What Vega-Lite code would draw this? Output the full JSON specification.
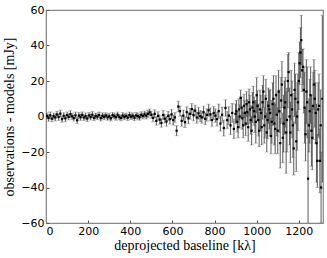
{
  "$schema": "https://vega.github.io/schema/vega-lite/v6.json",
  "width": 277,
  "height": 213,
  "autosize": {"type": "none"},
  "padding": {"left": 46, "top": 10, "right": 4, "bottom": 35},
  "config": {
    "view": {"stroke": "#888", "strokeWidth": 1.2},
    "axis": {
      "grid": false,
      "domainColor": "#888",
      "tickColor": "#555",
      "tickSize": -3,
      "labelFont": "DejaVu Sans",
      "labelFontSize": 11,
      "labelColor": "#000",
      "titleFont": "Liberation Serif",
      "titleFontSize": 14,
      "titleFontWeight": "normal",
      "titleColor": "#000"
    }
  },
  "data": {"values": [
    {"x":4,"y":0.3,"e":1.8},{"x":12,"y":-0.8,"e":1.9},{"x":20,"y":0.6,"e":2.0},{"x":28,"y":-1.2,"e":1.8},
    {"x":36,"y":0.2,"e":1.7},{"x":44,"y":-0.5,"e":2.0},{"x":52,"y":1.1,"e":1.8},{"x":60,"y":-0.3,"e":1.9},
    {"x":68,"y":1.6,"e":2.0},{"x":76,"y":-1.5,"e":1.8},{"x":84,"y":0.4,"e":1.7},{"x":92,"y":-1.0,"e":1.9},
    {"x":100,"y":0.8,"e":1.8},{"x":108,"y":-0.2,"e":1.7},{"x":116,"y":1.3,"e":1.9},{"x":124,"y":0.1,"e":1.8},
    {"x":132,"y":-0.9,"e":1.7},{"x":140,"y":0.7,"e":1.8},{"x":148,"y":-2.1,"e":1.9},{"x":156,"y":0.5,"e":1.7},
    {"x":164,"y":-0.4,"e":1.8},{"x":172,"y":0.9,"e":1.7},{"x":180,"y":-0.6,"e":1.6},{"x":188,"y":0.2,"e":1.8},
    {"x":196,"y":-1.1,"e":1.7},{"x":204,"y":0.6,"e":1.6},{"x":212,"y":-0.3,"e":1.7},{"x":220,"y":1.0,"e":1.8},
    {"x":228,"y":-0.7,"e":1.6},{"x":236,"y":0.3,"e":1.7},{"x":244,"y":-0.1,"e":1.6},{"x":252,"y":0.8,"e":1.7},
    {"x":260,"y":-0.9,"e":1.6},{"x":268,"y":0.4,"e":1.7},{"x":276,"y":-0.2,"e":1.6},{"x":284,"y":0.6,"e":1.5},
    {"x":292,"y":-0.5,"e":1.6},{"x":300,"y":0.1,"e":1.7},{"x":308,"y":-1.0,"e":1.6},{"x":316,"y":0.7,"e":1.5},
    {"x":324,"y":0.2,"e":1.6},{"x":332,"y":-0.4,"e":1.7},{"x":340,"y":0.9,"e":1.6},{"x":348,"y":-0.3,"e":1.5},
    {"x":356,"y":-0.8,"e":1.6},{"x":364,"y":0.5,"e":1.7},{"x":372,"y":-0.2,"e":1.6},{"x":380,"y":0.3,"e":1.5},
    {"x":388,"y":-0.6,"e":1.6},{"x":396,"y":0.8,"e":1.7},{"x":404,"y":-0.1,"e":1.6},{"x":412,"y":0.4,"e":1.7},
    {"x":420,"y":-0.7,"e":1.6},{"x":428,"y":0.6,"e":1.7},{"x":436,"y":0.2,"e":1.8},{"x":444,"y":-0.4,"e":1.7},
    {"x":452,"y":0.9,"e":1.8},{"x":460,"y":0.3,"e":1.7},{"x":468,"y":1.2,"e":1.8},{"x":476,"y":0.5,"e":1.9},
    {"x":484,"y":1.5,"e":2.0},{"x":492,"y":2.3,"e":1.9},{"x":500,"y":1.0,"e":2.0},{"x":508,"y":-0.8,"e":2.2},
    {"x":516,"y":1.5,"e":2.3},{"x":524,"y":-2.5,"e":2.4},{"x":532,"y":0.4,"e":2.3},{"x":540,"y":-1.8,"e":2.5},
    {"x":548,"y":-3.6,"e":2.4},{"x":556,"y":0.8,"e":2.6},{"x":564,"y":-1.2,"e":2.5},{"x":572,"y":-2.8,"e":2.7},
    {"x":580,"y":0.3,"e":2.6},{"x":588,"y":-1.5,"e":2.7},{"x":596,"y":1.2,"e":2.8},{"x":604,"y":-2.0,"e":2.9},
    {"x":612,"y":-0.5,"e":2.8},{"x":620,"y":-8.0,"e":2.8},{"x":628,"y":5.6,"e":3.0},{"x":636,"y":3.0,"e":2.9},
    {"x":644,"y":-2.5,"e":3.0},{"x":652,"y":0.5,"e":3.1},{"x":660,"y":-3.2,"e":3.0},{"x":668,"y":2.5,"e":3.0},
    {"x":676,"y":-1.0,"e":3.1},{"x":684,"y":1.5,"e":3.0},{"x":692,"y":4.2,"e":3.1},{"x":700,"y":0.8,"e":3.2},
    {"x":708,"y":3.3,"e":3.1},{"x":716,"y":-0.6,"e":3.2},{"x":724,"y":1.8,"e":3.3},{"x":732,"y":0.2,"e":3.2},
    {"x":740,"y":-0.5,"e":3.3},{"x":748,"y":2.4,"e":3.4},{"x":756,"y":-1.3,"e":3.3},{"x":764,"y":0.9,"e":3.5},
    {"x":772,"y":3.5,"e":3.4},{"x":780,"y":1.2,"e":3.6},{"x":788,"y":-2.0,"e":3.5},{"x":796,"y":2.0,"e":3.7},
    {"x":804,"y":0.5,"e":3.8},{"x":812,"y":-1.5,"e":3.9},{"x":820,"y":3.0,"e":4.0},{"x":828,"y":-4.0,"e":4.2},
    {"x":836,"y":1.0,"e":4.3},{"x":844,"y":-6.5,"e":4.5},{"x":852,"y":4.8,"e":4.6},{"x":860,"y":-2.0,"e":4.8},
    {"x":868,"y":0.5,"e":5.0},{"x":876,"y":-5.0,"e":5.2},{"x":884,"y":2.0,"e":5.3},{"x":892,"y":-7.0,"e":5.5},
    {"x":900,"y":1.5,"e":5.5},{"x":908,"y":-3.0,"e":5.8},{"x":916,"y":4.0,"e":6.0},{"x":924,"y":10.5,"e":4.5},
    {"x":932,"y":-1.0,"e":6.2},{"x":940,"y":6.0,"e":6.5},{"x":948,"y":-4.0,"e":6.8},{"x":956,"y":2.5,"e":7.0},
    {"x":964,"y":8.0,"e":7.5},{"x":972,"y":-2.0,"e":8.0},{"x":980,"y":5.0,"e":8.5},{"x":988,"y":3.0,"e":8.0},
    {"x":996,"y":-3.0,"e":12},{"x":1004,"y":6.0,"e":8.5},{"x":1012,"y":-8.0,"e":9.0},{"x":1020,"y":2.0,"e":10},
    {"x":1028,"y":8.0,"e":9.5},{"x":1036,"y":-5.0,"e":10},{"x":1044,"y":10.0,"e":11},{"x":1052,"y":-2.0,"e":10.5},
    {"x":1060,"y":4.0,"e":11},{"x":1068,"y":-11.0,"e":10},{"x":1076,"y":7.0,"e":12},{"x":1084,"y":-4.0,"e":12},
    {"x":1092,"y":12.0,"e":11},{"x":1100,"y":-8.0,"e":13},{"x":1108,"y":3.0,"e":12},{"x":1116,"y":9.0,"e":13},
    {"x":1124,"y":-12.0,"e":14},{"x":1132,"y":5.0,"e":15},{"x":1140,"y":-9.0,"e":23},{"x":1148,"y":20.0,"e":15},
    {"x":1156,"y":0.0,"e":16},{"x":1164,"y":12.0,"e":14},{"x":1172,"y":-5.0,"e":18},{"x":1180,"y":15.0,"e":15},
    {"x":1188,"y":-14.0,"e":17},{"x":1196,"y":8.0,"e":16},{"x":1204,"y":30.0,"e":12},{"x":1212,"y":43.0,"e":14},
    {"x":1220,"y":28.0,"e":10},{"x":1228,"y":5.0,"e":20},{"x":1236,"y":14.0,"e":18},{"x":1244,"y":-35.0,"e":27},
    {"x":1252,"y":3.0,"e":18},{"x":1260,"y":-8.0,"e":20},{"x":1268,"y":6.0,"e":19},{"x":1276,"y":10.0,"e":16},
    {"x":1284,"y":-15.0,"e":22},{"x":1292,"y":4.0,"e":15},{"x":1300,"y":-25.0,"e":18},{"x":1306,"y":-40.0,"e":20},
    {"x":1312,"y":10.0,"e":47},
    {"x":904,"y":3.0,"e":6},{"x":912,"y":-6.0,"e":6},{"x":920,"y":0.0,"e":6.5},{"x":928,"y":5.0,"e":6},
    {"x":936,"y":-5.0,"e":7},{"x":944,"y":2.0,"e":7},{"x":952,"y":7.0,"e":7},{"x":960,"y":-6.0,"e":8},
    {"x":968,"y":4.0,"e":8},{"x":976,"y":-8.0,"e":8},{"x":984,"y":8.0,"e":9},{"x":992,"y":0.0,"e":9},
    {"x":1000,"y":12.0,"e":10},{"x":1008,"y":-2.0,"e":9},{"x":1016,"y":4.0,"e":11},{"x":1024,"y":-6.0,"e":10},
    {"x":1032,"y":14.0,"e":9},{"x":1040,"y":0.0,"e":12},{"x":1048,"y":-9.0,"e":11},{"x":1056,"y":6.0,"e":10},
    {"x":1064,"y":2.0,"e":13},{"x":1072,"y":-3.0,"e":12},{"x":1080,"y":10.0,"e":13},{"x":1088,"y":-7.0,"e":14},
    {"x":1096,"y":1.0,"e":12},{"x":1104,"y":14.0,"e":12},{"x":1112,"y":-15.0,"e":14},{"x":1120,"y":18.0,"e":13},
    {"x":1128,"y":-4.0,"e":16},{"x":1136,"y":8.0,"e":14},{"x":1144,"y":-2.0,"e":18},{"x":1152,"y":25.0,"e":11},
    {"x":1160,"y":-9.0,"e":17},{"x":1168,"y":4.0,"e":16},{"x":1176,"y":-18.0,"e":15},{"x":1184,"y":10.0,"e":14},
    {"x":1192,"y":0.0,"e":19},{"x":1200,"y":20.0,"e":16},{"x":1208,"y":36.0,"e":14},{"x":1216,"y":26.0,"e":12},
    {"x":1224,"y":15.0,"e":13},{"x":1232,"y":-10.0,"e":15},{"x":1240,"y":8.0,"e":20},{"x":1248,"y":-5.0,"e":15},
    {"x":1256,"y":12.0,"e":16},{"x":1264,"y":-12.0,"e":18},{"x":1272,"y":18.0,"e":14},{"x":1280,"y":2.0,"e":17},
    {"x":1288,"y":-25.0,"e":15},{"x":1296,"y":6.0,"e":18},{"x":1304,"y":-5.0,"e":20}
  ]},
  "encoding": {
    "x": {"field": "x", "type": "quantitative",
      "scale": {"domain": [0, 1315], "nice": false, "zero": false},
      "axis": {"values": [0,200,400,600,800,1000,1200], "format": "d", "title": "deprojected baseline [kλ]", "labelPadding": 5, "titlePadding": 2}},
    "y": {"field": "y", "type": "quantitative",
      "scale": {"domain": [-60, 60], "nice": false},
      "axis": {"values": [-60,-40,-20,0,20,40,60], "format": "d", "title": "observations - models [mJy]", "labelPadding": 5, "titlePadding": 4}}
  },
  "layer": [
    {
      "mark": {"type": "errorbar", "clip": true, "ticks": {"color": "#aaa", "size": 4}, "rule": {"color": "#444", "strokeWidth": 1.1, "opacity": 0.8}},
      "encoding": {"yError": {"field": "e"}}
    },
    {
      "mark": {"type": "square", "clip": true, "color": "#000", "size": 5, "filled": true, "opacity": 1}
    }
  ]
}
